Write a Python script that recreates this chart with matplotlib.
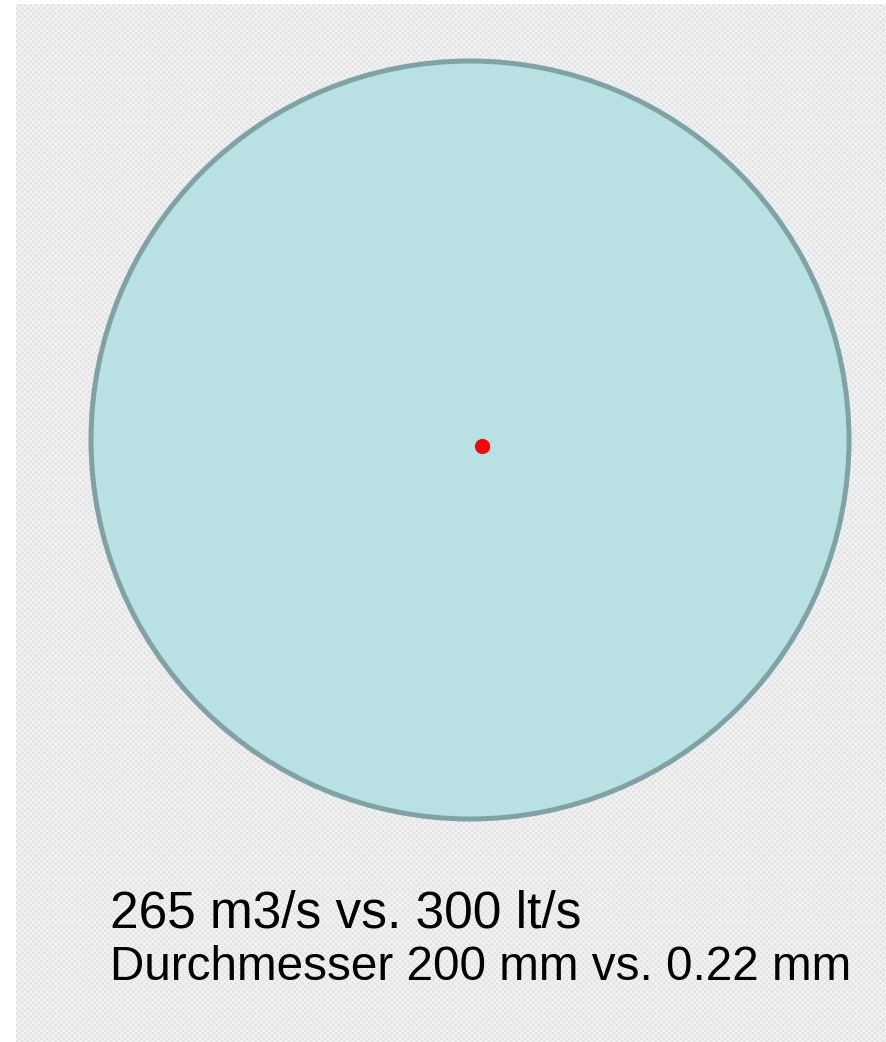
import matplotlib
matplotlib.use("Agg")
import matplotlib.pyplot as plt
from matplotlib.patches import Circle, Rectangle

# Data
labels = ["Fluss", "Kapillare"]
flows = ["265 m3/s", "300 lt/s"]
diameters_mm = [200, 0.22]
text_lines = ["265 m3/s vs. 300 lt/s", "Durchmesser 200 mm vs. 0.22 mm"]

W, H = 887, 1042
fig = plt.figure(figsize=(W / 100, H / 100), dpi=100)
fig.patch.set_facecolor("white")

ax = fig.add_axes([0, 0, 1, 1])
ax.set_facecolor("none")
scale = 3.79  # px per mm
cx, cy = 470, 440
ax.set_xlim(-cx / scale, (W - cx) / scale)
ax.set_ylim(-(H - cy) / scale, cy / scale)
ax.axis("off")

# patterned background
bg = Rectangle((16 / W, 0), 1 - 16 / W, 1 - 4 / H, transform=fig.transFigure,
               facecolor="#e2e2e2", edgecolor="#f2f2f2", hatch="xxxxxx",
               linewidth=0, zorder=0)
ax.add_patch(bg)

big = Circle((0, 0), diameters_mm[0] / 2, facecolor="#b9e0e3",
             edgecolor="#7fa2a5", linewidth=3.6, zorder=2)
ax.add_patch(big)

# small capillary (enlarged so it's visible)
ax.scatter([12 / scale], [-6 / scale], s=120, color="#ff0000", marker="o",
           zorder=3, linewidths=0)

fig.text(110 / W, 1 - 927 / H, text_lines[0], fontsize=37,
         family="Liberation Sans", ha="left", va="baseline", color="black")
fig.text(110 / W, 1 - 980 / H, text_lines[1], fontsize=34.3,
         family="Liberation Sans", ha="left", va="baseline", color="black")

fig.savefig("out.png", dpi=100, facecolor=fig.get_facecolor())
